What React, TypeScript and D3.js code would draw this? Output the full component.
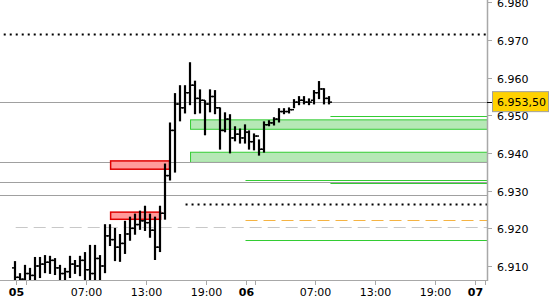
import React from 'react';
import * as d3 from 'd3';

// 30-minute OHLC bars, starting 05 00:00 (trading hours, 23:00-24:00 closed)
const barHigh = [6.9113, 6.9081, 6.9103, 6.9095, 6.9124, 6.9124, 6.9129, 6.9127, 6.9121, 6.9103,
  6.9095, 6.9127, 6.9116, 6.9127, 6.9137, 6.9156, 6.9156, 6.9129, 6.9211, 6.9211,
  6.9201, 6.9185, 6.9220, 6.9231, 6.9239, 6.9247, 6.9260, 6.9239, 6.9231, 6.9260,
  6.9372, 6.9481, 6.9559, 6.9580, 6.9580, 6.9641, 6.9592, 6.9569, 6.9540, 6.9569,
  6.9567, 6.9521, 6.9508, 6.9503, 6.9471, 6.9465, 6.9476, 6.9460, 6.9452, 6.9436,
  6.9484, 6.9487, 6.9495, 6.9519, 6.9519, 6.9521, 6.9543, 6.9551, 6.9551, 6.9545,
  6.9567, 6.9591, 6.9572, 6.9551];
const barLow = [6.9050, 6.9050, 6.9050, 6.9050, 6.9055, 6.9068, 6.9081, 6.9079, 6.9076, 6.9050,
  6.9050, 6.9068, 6.9079, 6.9073, 6.9052, 6.9050, 6.9050, 6.9050, 6.9081, 6.9153,
  6.9113, 6.9111, 6.9132, 6.9167, 6.9183, 6.9196, 6.9193, 6.9175, 6.9116, 6.9137,
  6.9223, 6.9327, 6.9348, 6.9484, 6.9505, 6.9527, 6.9503, 6.9505, 6.9447, 6.9508,
  6.9503, 6.9409, 6.9455, 6.9399, 6.9431, 6.9425, 6.9425, 6.9409, 6.9407, 6.9393,
  6.9401, 6.9471, 6.9473, 6.9481, 6.9503, 6.9505, 6.9519, 6.9527, 6.9529, 6.9527,
  6.9529, 6.9543, 6.9529, 6.9529];
const barOpen = [6.9095, 6.9070, 6.9065, 6.9080, 6.9075, 6.9100, 6.9105, 6.9110, 6.9115, 6.9095,
  6.9080, 6.9085, 6.9105, 6.9100, 6.9115, 6.9090, 6.9080, 6.9120, 6.9100, 6.9180,
  6.9170, 6.9150, 6.9160, 6.9185, 6.9200, 6.9210, 6.9220, 6.9215, 6.9195, 6.9150,
  6.9240, 6.9340, 6.9460, 6.9530, 6.9520, 6.9560, 6.9580, 6.9545, 6.9540, 6.9530,
  6.9550, 6.9520, 6.9460, 6.9490, 6.9440, 6.9450, 6.9440, 6.9455, 6.9430, 6.9445,
  6.9410, 6.9475, 6.9480, 6.9490, 6.9510, 6.9510, 6.9515, 6.9535, 6.9540, 6.9535,
  6.9540, 6.9560, 6.9570, 6.9545];
const barClose = [6.9070, 6.9065, 6.9080, 6.9075, 6.9100, 6.9105, 6.9110, 6.9115, 6.9095, 6.9080,
  6.9085, 6.9105, 6.9100, 6.9115, 6.9090, 6.9080, 6.9120, 6.9100, 6.9180, 6.9170,
  6.9150, 6.9160, 6.9185, 6.9200, 6.9210, 6.9220, 6.9215, 6.9195, 6.9150, 6.9240,
  6.9340, 6.9460, 6.9530, 6.9520, 6.9560, 6.9580, 6.9545, 6.9540, 6.9530, 6.9550,
  6.9520, 6.9460, 6.9490, 6.9440, 6.9450, 6.9440, 6.9455, 6.9430, 6.9445, 6.9410,
  6.9475, 6.9480, 6.9490, 6.9510, 6.9510, 6.9515, 6.9535, 6.9540, 6.9535, 6.9535,
  6.9560, 6.9570, 6.9545, 6.9535];

const lastPrice = 6.9535;
const lastPriceLabel = '6.953,50';

const yTickValues = [6.91, 6.92, 6.93, 6.94, 6.95, 6.96, 6.97, 6.98];
const yTickLabels = ['6.910', '6.920', '6.930', '6.940', '6.950', '6.960', '6.970', '6.980'];

// time in trading hours from 05 00:00
const xTickTimes = [0, 7, 13, 19, 23, 30, 36, 42, 46];
const xTickLabels = ['05', '07:00', '13:00', '19:00', '06', '07:00', '13:00', '19:00', '07'];
const xTickBold = [true, false, false, false, true, false, false, false, true];
const xMinorTimes = [1, 24, 47];

// horizontal levels: price, start time, kind
const levelPrices = [6.9716, 6.9535, 6.9375, 6.9322, 6.9288, 6.9265, 6.9222, 6.9203, 6.9169, 6.9498, 6.9328, 6.9320];
const levelStarts = [-3, -3, -3, -3, -3, 17, 23, 0, 23, 31.5, 23, 31.5];
const levelKinds = ['dotBlack', 'gray', 'gray', 'gray', 'gray', 'dotBlack', 'orange', 'lightDash', 'green', 'green', 'green', 'green'];

// zones
const greenZoneTop = [6.9488, 6.9402];
const greenZoneBottom = [6.9463, 6.9375];
const greenZoneStart = [17.5, 17.5];
const redZoneTop = [6.9379, 6.9243];
const redZoneBottom = [6.9357, 6.9224];
const redZoneStart = [9.5, 9.5];
const redZoneEnd = [15.4, 14.5];

const W = 550, H = 300;
const plotRight = 487, plotBottom = 281;

export default function App() {
  const x = d3.scaleLinear().domain([0, 46]).range([15.7, 475.3]);
  const y = d3.scaleLinear().domain([6.91, 6.97]).range([266, 40]);

  const styleFor = (k: string) => {
    switch (k) {
      case 'dotBlack': return { stroke: '#000', strokeWidth: 2, strokeDasharray: '2,4' };
      case 'gray': return { stroke: '#a0a0a0', strokeWidth: 1 };
      case 'orange': return { stroke: '#f5b342', strokeWidth: 1, strokeDasharray: '12,6' };
      case 'lightDash': return { stroke: '#c8c8c8', strokeWidth: 1, strokeDasharray: '12,6' };
      case 'green': return { stroke: '#33cc33', strokeWidth: 1 };
      default: return { stroke: '#000' };
    }
  };
  const font = '"DejaVu Sans", Verdana, sans-serif';

  return (
    <svg width={W} height={H} style={{ position: 'absolute', left: 0, top: 0, background: '#fff' }}>
      <defs>
        <clipPath id="plot"><rect x={0} y={0} width={plotRight} height={plotBottom} /></clipPath>
      </defs>
      <g clipPath="url(#plot)">
        {greenZoneTop.map((t, i) => (
          <rect key={'gz' + i} x={x(greenZoneStart[i])} y={y(t)} width={plotRight + 5 - x(greenZoneStart[i])}
            height={y(greenZoneBottom[i]) - y(t)} fill="#b6e8b6" stroke="#33cc33" strokeWidth={1} />
        ))}
        {levelPrices.map((p, i) => {
          const yy = Math.round(y(p)) + 0.5;
          return <line key={'lv' + i} x1={x(levelStarts[i])} x2={plotRight} y1={yy} y2={yy} {...styleFor(levelKinds[i])} />;
        })}
        {redZoneTop.map((t, i) => (
          <rect key={'rz' + i} x={x(redZoneStart[i])} y={y(t)} width={x(redZoneEnd[i]) - x(redZoneStart[i])}
            height={y(redZoneBottom[i]) - y(t)} fill="#ff9a9a" stroke="#e00000" strokeWidth={1.5} />
        ))}
        {barHigh.map((h, i) => {
          const cx = Math.round(x(i * 0.5)) - 1;
          return (
            <g key={'b' + i}>
              <line x1={cx} x2={cx} y1={y(h)} y2={y(barLow[i])} stroke="#000" strokeWidth={2.2} />
              <line x1={cx - 3} x2={cx} y1={y(barOpen[i])} y2={y(barOpen[i])} stroke="#000" strokeWidth={1.5} />
              <line x1={cx} x2={cx + 3} y1={y(barClose[i])} y2={y(barClose[i])} stroke="#000" strokeWidth={1.5} />
            </g>
          );
        })}
      </g>
      {/* axes */}
      <line x1={0} x2={plotRight} y1={plotBottom - 0.5} y2={plotBottom - 0.5} stroke="#a8a8a8" />
      <line x1={plotRight + 0.5} x2={plotRight + 0.5} y1={0} y2={plotBottom} stroke="#a8a8a8" strokeWidth={1.5} />
      {yTickValues.map((v, i) => {
        const yy = Math.round(y(v)) + 0.5;
        return (
          <g key={'yt' + i}>
            <line x1={plotRight} x2={plotRight + 5} y1={yy} y2={yy} stroke="#a8a8a8" />
            <text x={497} y={yy + 4} fontFamily={font} fontSize={11} fill="#000">{yTickLabels[i]}</text>
          </g>
        );
      })}
      {xTickTimes.map((t, i) => {
        const xx = Math.round(x(t)) + 0.5;
        return (
          <g key={'xt' + i}>
            <line x1={xx} x2={xx} y1={plotBottom} y2={plotBottom + 4} stroke="#a8a8a8" />
            <text x={xx} y={296} textAnchor="middle" fontFamily={font} fontSize={11}
              fontWeight={xTickBold[i] ? 'bold' : 'normal'} fill="#000">{xTickLabels[i]}</text>
          </g>
        );
      })}
      {xMinorTimes.map((t, i) => {
        const xx = Math.round(x(t)) + 0.5;
        return <line key={'xm' + i} x1={xx} x2={xx} y1={plotBottom} y2={plotBottom + 4} stroke="#a8a8a8" />;
      })}
      {/* last price marker */}
      <line x1={plotRight} x2={plotRight + 5} y1={Math.round(y(lastPrice)) + 0.5} y2={Math.round(y(lastPrice)) + 0.5} stroke="#000" />
      <rect x={492.5} y={y(lastPrice) - 10.5} width={56} height={20} fill="#ffd200" stroke="#a0a0a0" />
      <text x={497} y={y(lastPrice) + 4} fontFamily={font} fontSize={11} fill="#000">{lastPriceLabel}</text>
    </svg>
  );
}
